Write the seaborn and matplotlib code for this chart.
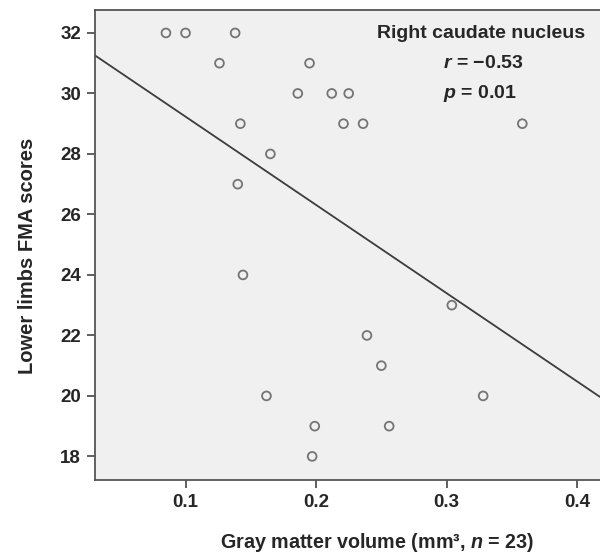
import matplotlib
matplotlib.use('Agg')
import matplotlib.pyplot as plt
import numpy as np
import pandas as pd
import seaborn as sns

# Values
gray_matter = [0.085, 0.100, 0.138, 0.126, 0.195, 0.186, 0.212, 0.225,
               0.142, 0.221, 0.236, 0.358, 0.165, 0.140, 0.144, 0.304,
               0.239, 0.250, 0.162, 0.328, 0.199, 0.256, 0.197]
fma_scores = [32, 32, 32, 31, 31, 30, 30, 30,
              29, 29, 29, 29, 28, 27, 24, 23,
              22, 21, 20, 20, 19, 19, 18]
x_ticks = [0.1, 0.2, 0.3, 0.4]
y_ticks = [18, 20, 22, 24, 26, 28, 30, 32]

data = pd.DataFrame({'gmv': gray_matter, 'fma': fma_scores})

sns.set_style('ticks')
plt.rcParams['font.family'] = ['Liberation Sans', 'DejaVu Sans']
plt.rcParams['mathtext.fontset'] = 'custom'
plt.rcParams['mathtext.it'] = 'Liberation Sans:bold:italic'
plt.rcParams['mathtext.rm'] = 'Liberation Sans:bold'

fig = plt.figure(figsize=(6.0, 5.53), dpi=100)
ax = fig.add_axes([0.158, 0.132, 0.842, 0.850])
ax.set_facecolor('#f0f0f0')
ax.set_xlim(0.0305, 0.4175)
ax.set_ylim(17.22, 32.76)

sns.regplot(x='gmv', y='fma', data=data, ax=ax, ci=None, truncate=False,
            scatter_kws=dict(s=40, facecolors='none', edgecolors='#555555', linewidths=1.3),
            line_kws=dict(color='#3c3c3c', linewidth=1.3))

ax.set_xticks(x_ticks)
ax.set_xticklabels(['0.1', '0.2', '0.3', '0.4'])
ax.set_yticks(y_ticks)
ax.tick_params(axis='both', direction='out', length=5.5, width=1.2, color='#444444',
               labelsize=13.5, pad=4.5)
for lab in ax.get_xticklabels() + ax.get_yticklabels():
    lab.set_fontweight('bold')
for side in ['left', 'bottom', 'top']:
    ax.spines[side].set_color('#555555')
    ax.spines[side].set_linewidth(1.3)
ax.spines['right'].set_visible(False)

# axis titles (the original axes ran past the cropped right edge)
ax.set_xlabel('Gray matter volume (mm³, $\\it{n}$ = 23)', fontsize=14.2,
              fontweight='bold', va='center')
ax.xaxis.set_label_coords(0.558, -0.132)
ax.set_ylabel('Lower limbs FMA scores', fontsize=14.5, fontweight='bold', va='center')
ax.yaxis.set_label_coords(-0.133, 0.476)

ax.text(0.802, 0.939, 'Right caudate nucleus', transform=fig.transFigure,
        fontsize=14, fontweight='bold', ha='center', va='center')
ax.text(0.738, 0.886, '$\\it{r}$ = −0.53', transform=fig.transFigure,
        fontsize=14, fontweight='bold', ha='left', va='center')
ax.text(0.738, 0.831, '$\\it{p}$ = 0.01', transform=fig.transFigure,
        fontsize=14, fontweight='bold', ha='left', va='center')

fig.savefig('out.png', dpi=100)
